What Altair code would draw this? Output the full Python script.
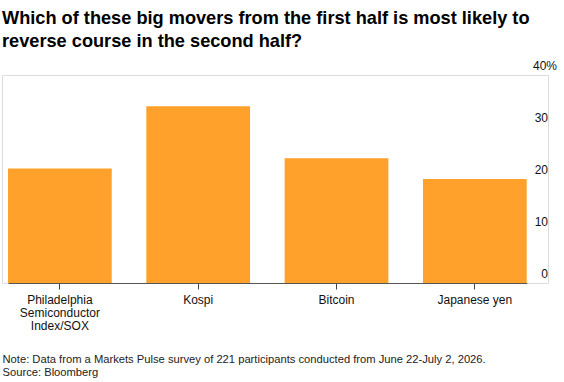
import altair as alt
import pandas as pd

categories = ["Philadelphia Semiconductor Index/SOX", "Kospi", "Bitcoin", "Japanese yen"]
shares = [22, 34, 24, 20]
y_ticks = [0, 10, 20, 30, 40]
y_tick_labels = ["0", "10", "20", "30", "40%"]

title_lines = ["Which of these big movers from the first half is most likely to",
               "reverse course in the second half?"]
note_lines = ["Note: Data from a Markets Pulse survey of 221 participants conducted from June 22-July 2, 2026.",
              "Source: Bloomberg"]

FONT = "Liberation Sans"
BAR = "#FFA12B"

df = pd.DataFrame({"asset": categories, "share": shares})
ticks_df = pd.DataFrame({"v": y_ticks, "lab": y_tick_labels})

y_scale = alt.Scale(domain=[0, 40], nice=False)

bars = alt.Chart(df).mark_bar(color=BAR).encode(
    x=alt.X(
        "asset:N",
        sort=categories,
        scale=alt.Scale(range=[6, 524.7], paddingInner=0.25, paddingOuter=0),
        axis=alt.Axis(
            title=note_lines,
            titleAnchor="start",
            titleAlign="left",
            titleX=0,
            titleY=79,
            titleBaseline="alphabetic",
            titleFont=FONT,
            titleFontSize=11.2,
            titleFontWeight="normal",
            titleColor="#222222",
            titleLineHeight=13.7,
            labelAngle=0,
            labelFont=FONT,
            labelFontSize=12,
            labelColor="#111111",
            labelLineHeight=13,
            labelPadding=5,
            labelBaseline="top",
            labelExpr="datum.label == 'Philadelphia Semiconductor Index/SOX' ? ['Philadelphia', 'Semiconductor', 'Index/SOX'] : datum.label",
            tickSize=6,
            tickColor="#444444",
            domainColor="#555555",
            domainWidth=1,
            grid=False,
        ),
    ),
    y=alt.Y(
        "share:Q",
        scale=y_scale,
        axis=alt.Axis(
            orient="right",
            values=y_ticks,
            labels=False,
            ticks=False,
            domain=False,
            title=None,
            grid=True,
            gridColor="#dedede",
            gridWidth=1,
        ),
    ),
)

labels_num = alt.Chart(ticks_df).transform_filter("datum.v < 40").mark_text(
    align="right", baseline="alphabetic", dy=-5, font=FONT, fontSize=12, color="#111111"
).encode(
    x=alt.value(546),
    y=alt.Y("v:Q", scale=y_scale, axis=None),
    text="lab:N",
)

labels_top = alt.Chart(ticks_df).transform_filter("datum.v == 40").mark_text(
    align="left", baseline="alphabetic", dy=-5, font=FONT, fontSize=12, color="#111111"
).encode(
    x=alt.value(531),
    y=alt.Y("v:Q", scale=y_scale, axis=None),
    text="lab:N",
)

chart = alt.layer(bars, labels_num, labels_top).properties(
    width=546,
    height=208,
    autosize=alt.AutoSizeParams(type="none"),
    padding={"left": 2, "top": 75, "right": 16, "bottom": 99},
    title=alt.TitleParams(
        text=title_lines,
        anchor="start",
        frame="group",
        font=FONT,
        fontSize=18.2,
        fontWeight="bold",
        color="#000000",
        lineHeight=23,
        offset=9,
    ),
).configure_view(stroke=None).configure(background="white")

chart.save("out.html", embed_options={"renderer": "svg", "actions": False})
